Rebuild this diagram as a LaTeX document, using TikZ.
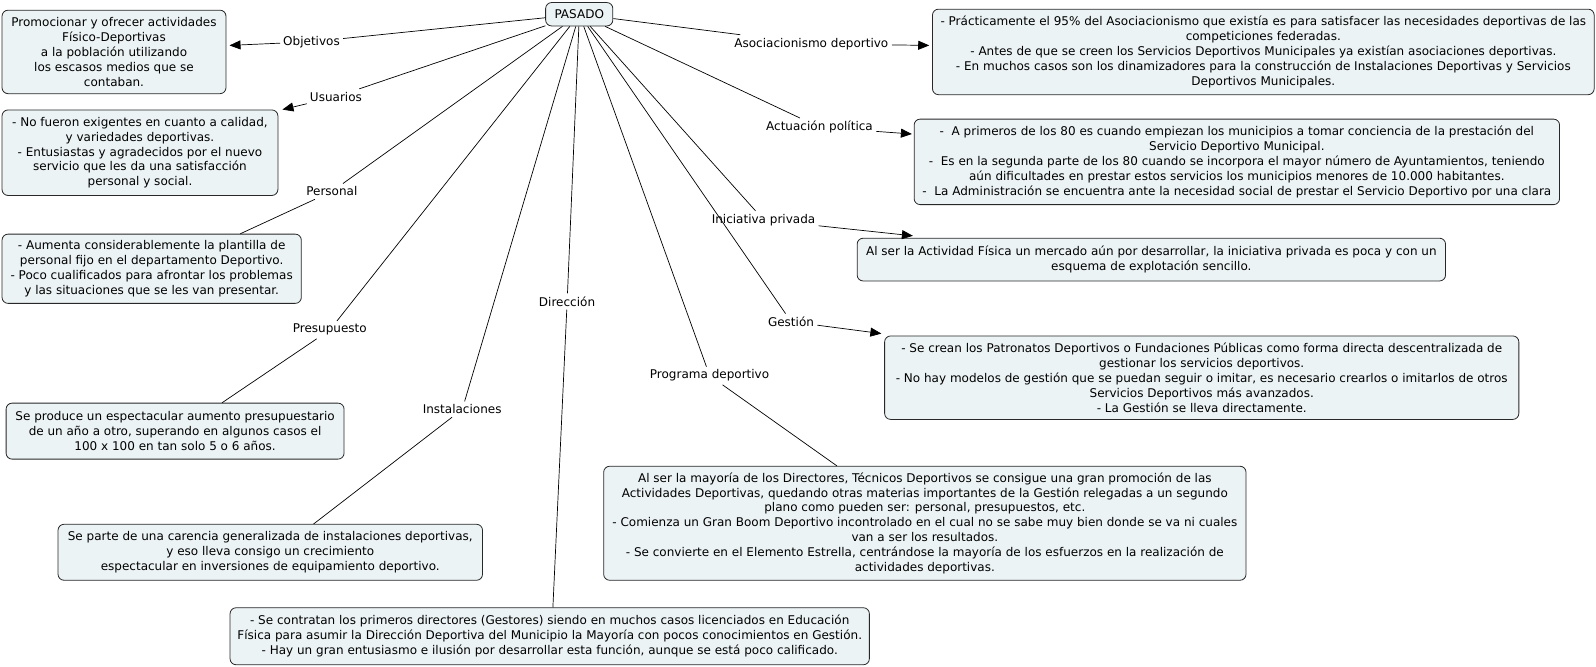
\documentclass[tikz,border=0pt]{standalone}
\usepackage{fontspec}
\setmainfont{DejaVu Sans}
\usetikzlibrary{arrows.meta}
\definecolor{boxfill}{RGB}{236,243,245}
\definecolor{boxdraw}{RGB}{40,40,40}
\begin{document}
\begin{tikzpicture}[x=1pt,y=-1pt,scale=1.018,transform shape,
 box/.style={draw=boxdraw, fill=boxfill, rounded corners=6pt, align=center, inner sep=0pt, font=\fontsize{11.8}{14.6}\selectfont, line width=0.8pt},
 lab/.style={inner sep=3pt, font=\fontsize{11.8}{13}\selectfont},
 conn/.style={line width=0.7pt},
 arr/.style={conn,-{Triangle[length=11pt,width=9pt]}}]
\useasboundingbox (0,0) rectangle (1567.8,655.2);
% central node
\node[box, minimum width=66pt, minimum height=23pt] (pas) at (569,14) {PASADO};
% boxes
\node[box, minimum width=220pt, minimum height=82pt] (bobj) at (112,51) {Promocionar y ofrecer actividades\\ Físico-Deportivas\\ a la población utilizando\\ los escasos medios que se\\ contaban.};
\node[box, minimum width=271pt, minimum height=84pt] (busu) at (137.5,150) {- No fueron exigentes en cuanto a calidad,\\ y variedades deportivas.\\ - Entusiastas y agradecidos por el nuevo\\ servicio que les da una satisfacción\\ personal y social.};
\node[box, minimum width=294pt, minimum height=68pt] (bper) at (149,264) {- Aumenta considerablemente la plantilla de\\ personal fijo en el departamento Deportivo.\\ - Poco cualificados para afrontar los problemas\\ y las situaciones que se les van presentar.};
\node[box, minimum width=332pt, minimum height=55pt] (bpre) at (172,423.5) {Se produce un espectacular aumento presupuestario\\ de un año a otro, superando en algunos casos el\\ 100 x 100 en tan solo 5 o 6 años.};
\node[box, minimum width=417pt, minimum height=55pt] (bins) at (265.5,542.5) {Se parte de una carencia generalizada de instalaciones deportivas,\\ y eso lleva consigo un crecimiento\\ espectacular en inversiones de equipamiento deportivo.};
\node[box, minimum width=628pt, minimum height=56pt] (bdir) at (540,625) {- Se contratan los primeros directores (Gestores) siendo en muchos casos licenciados en Educación\\ Física para asumir la Dirección Deportiva del Municipio la Mayoría con pocos conocimientos en Gestión.\\ - Hay un gran entusiasmo e ilusión por desarrollar esta función, aunque se está poco calificado.};
\node[box, minimum width=631pt, minimum height=112pt] (bpro) at (908.5,514) {Al ser la mayoría de los Directores, Técnicos Deportivos se consigue una gran promoción de las\\ Actividades Deportivas, quedando otras materias importantes de la Gestión relegadas a un segundo\\ plano como pueden ser: personal, presupuestos, etc.\\ - Comienza un Gran Boom Deportivo incontrolado en el cual no se sabe muy bien donde se va ni cuales\\ van a ser los resultados.\\ - Se convierte en el Elemento Estrella, centrándose la mayoría de los esfuerzos en la realización de\\ actividades deportivas.};
\node[box, minimum width=623pt, minimum height=82pt] (bges) at (1180.5,371) {- Se crean los Patronatos Deportivos o Fundaciones Públicas como forma directa descentralizada de\\ gestionar los servicios deportivos.\\ - No hay modelos de gestión que se puedan seguir o imitar, es necesario crearlos o imitarlos de otros\\ Servicios Deportivos más avanzados.\\ - La Gestión se lleva directamente.};
\node[box, minimum width=578pt, minimum height=42pt] (bini) at (1131,255) {Al ser la Actividad Física un mercado aún por desarrollar, la iniciativa privada es poca y con un\\ esquema de explotación sencillo.};
\node[box, minimum width=634pt, minimum height=84pt] (bact) at (1215,159) {-~ A primeros de los 80 es cuando empiezan los municipios a tomar conciencia de la prestación del\\ Servicio Deportivo Municipal.\\ -~ Es en la segunda parte de los 80 cuando se incorpora el mayor número de Ayuntamientos, teniendo\\ aún dificultades en prestar estos servicios los municipios menores de 10.000 habitantes.\\ -~ La Administración se encuentra ante la necesidad social de prestar el Servicio Deportivo por una clara};
\node[box, minimum width=650pt, minimum height=84pt] (baso) at (1241,51) {- Prácticamente el 95\% del Asociacionismo que existía es para satisfacer las necesidades deportivas de las\\ competiciones federadas.\\ - Antes de que se creen los Servicios Deportivos Municipales ya existían asociaciones deportivas.\\ - En muchos casos son los dinamizadores para la construcción de Instalaciones Deportivas y Servicios\\ Deportivos Municipales.};
% labels
\node[lab] (lobj) at (306,41) {Objetivos};
\node[lab] (lusu) at (330,95) {Usuarios};
\node[lab] (lper) at (326,188) {Personal};
\node[lab] (lpre) at (324,324) {Presupuesto};
\node[lab] (lins) at (454,402) {Instalaciones};
\node[lab] (ldir) at (557,296) {Dirección};
\node[lab] (lpro) at (697,369) {Programa deportivo};
\node[lab] (lges) at (777,316) {Gestión};
\node[lab] (lini) at (750,216) {Iniciativa privada};
\node[lab] (lact) at (805,125) {Actuación política};
\node[lab] (laso) at (797,43) {Asociacionismo deportivo};
% connectors from PASADO
\foreach \l in {lobj,lusu,lper,lpre,lins,ldir,lpro,lges,lini,lact,laso}
  \draw[conn] (pas) -- (\l);
% left/down connectors
\draw[arr] (lobj) -- ([xshift=3pt,yshift=-35pt]bobj.north east);
\draw[arr] (lusu) -- ([xshift=4pt]busu.north east);
\draw[conn] (lper) -- ([xshift=87pt]bper.north);
\draw[conn] (lpre) -- ([xshift=46pt]bpre.north);
\draw[conn] (lins) -- ([xshift=42.5pt]bins.north);
\draw[conn] (ldir) -- ([xshift=3pt]bdir.north);
\draw[conn] (lpro) -- ([xshift=-86.5pt]bpro.north);
% right arrows
\draw[arr] (lges) -- ([xshift=-3pt,yshift=2pt]bges.north west);
\draw[arr] (lini) -- ([xshift=55pt,yshift=2pt]bini.north west);
\draw[arr] (lact) -- ([xshift=-2pt,yshift=-15pt]bact.north west);
\draw[arr] (laso) -- ([xshift=-3pt,yshift=-36pt]baso.north west);
\end{tikzpicture}
\end{document}
